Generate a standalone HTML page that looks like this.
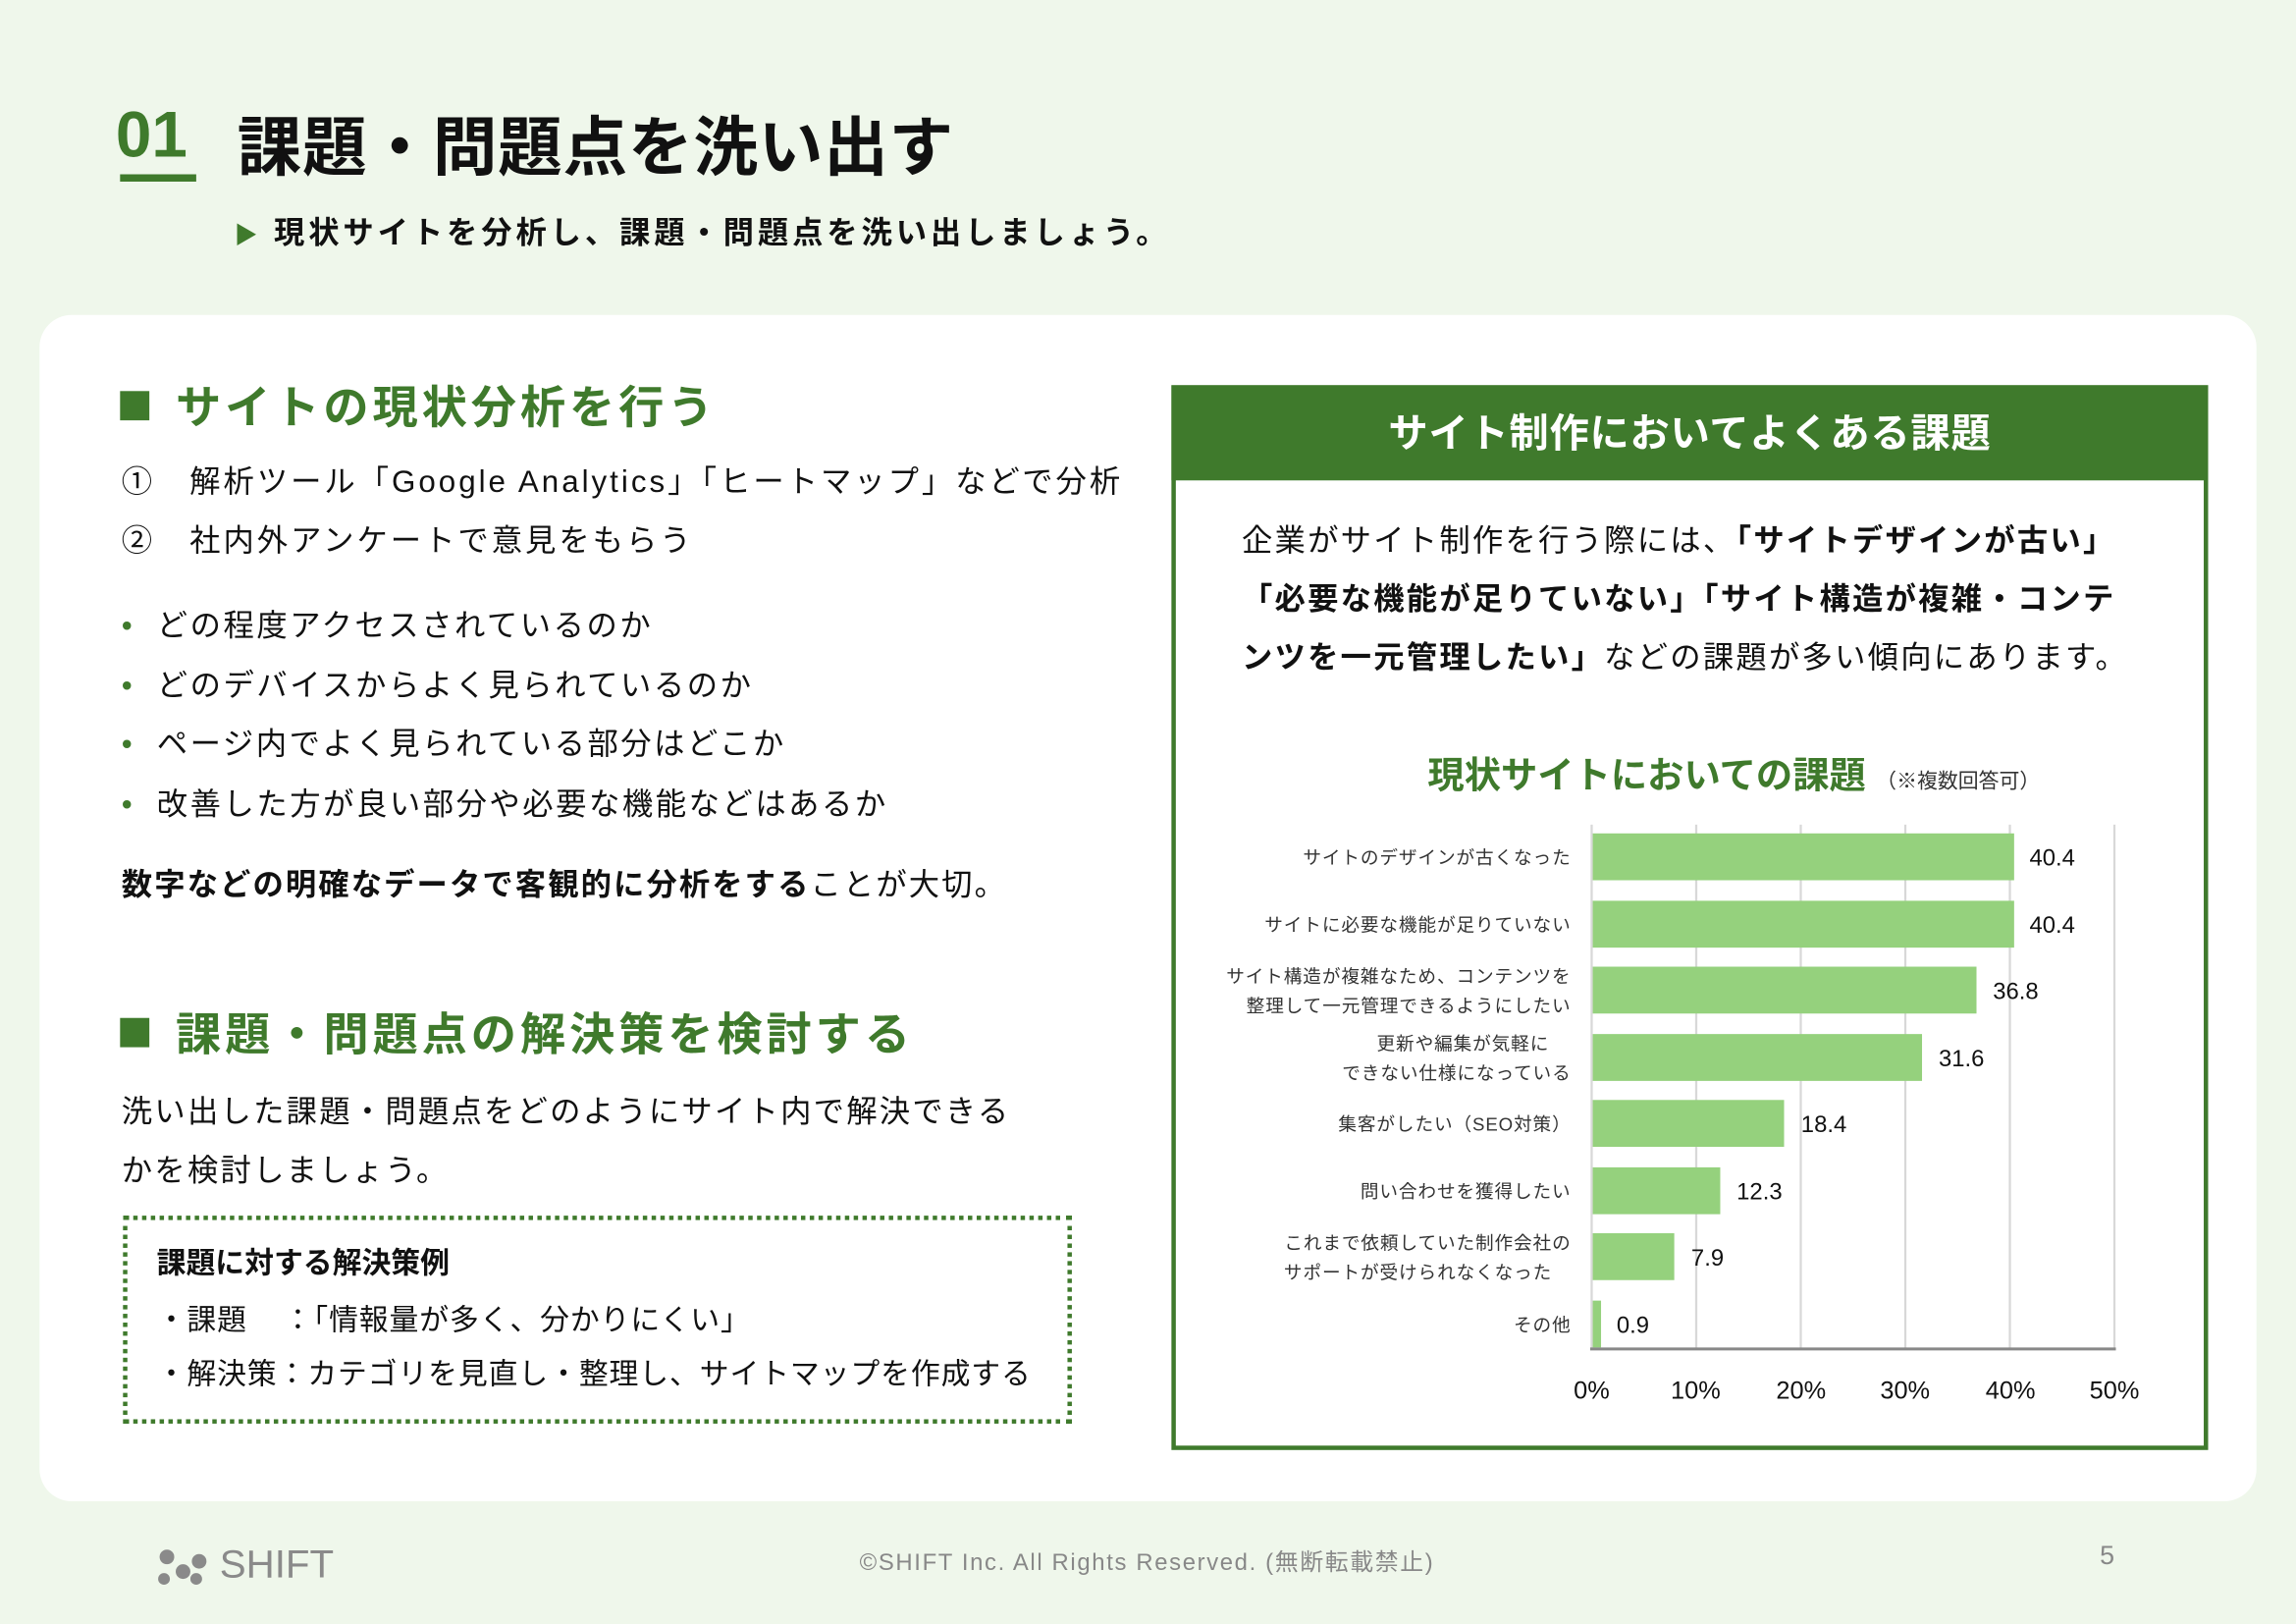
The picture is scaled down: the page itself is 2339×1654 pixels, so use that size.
<!DOCTYPE html>
<html><head><meta charset="utf-8"><style>
html,body{margin:0;padding:0;}
body{width:2339px;height:1654px;overflow:hidden;background:#eff7eb;}
#s{position:absolute;left:0;top:0;width:1568px;height:1109px;transform:scale(1.49171);transform-origin:0 0;font-family:"Liberation Sans","Noto Sans CJK JP",sans-serif;color:#111;}
.a{position:absolute;white-space:nowrap;}
.g{color:#3f7a2c;}
.b{font-weight:bold;}
</style></head><body><div id="s">
<div class="a b g" style="left:79px;top:68px;font-size:44px;">01</div>
<div class="a" style="left:82px;top:119px;width:52px;height:5px;background:#3f7a2c;"></div>
<div class="a b" style="left:162px;top:65px;font-size:44px;letter-spacing:0.5px;">課題・問題点を洗い出す</div>
<div class="a b" style="left:160px;top:143px;font-size:21px;letter-spacing:2.6px;"><span class="g" style="font-size:16px;">▶</span> 現状サイトを分析し、課題・問題点を洗い出しましょう。</div>

<div class="a" style="left:27px;top:215px;width:1514px;height:810px;background:#fff;border-radius:22px;"></div>

<div class="a b g" style="left:82px;top:253px;font-size:31px;letter-spacing:2.6px;"><span style="display:inline-block;width:20px;height:20px;background:#3f7a2c;margin-right:18px;vertical-align:2px;"></span>サイトの現状分析を行う</div>
<div class="a" style="left:83px;top:313px;font-size:21px;letter-spacing:2px;">①&nbsp;&nbsp;&nbsp;解析ツール「Google Analytics」「ヒートマップ」などで分析</div>
<div class="a" style="left:83px;top:353px;font-size:21px;letter-spacing:2px;">②&nbsp;&nbsp;&nbsp;社内外アンケートで意見をもらう</div>
<div class="a" style="left:83px;top:408px;font-size:21px;line-height:40.5px;letter-spacing:1.7px;"><span class="g">•</span>&nbsp;&nbsp;どの程度アクセスされているのか<br><span class="g">•</span>&nbsp;&nbsp;どのデバイスからよく見られているのか<br><span class="g">•</span>&nbsp;&nbsp;ページ内でよく見られている部分はどこか<br><span class="g">•</span>&nbsp;&nbsp;改善した方が良い部分や必要な機能などはあるか</div>
<div class="a" style="left:83px;top:588px;font-size:21px;letter-spacing:1.4px;"><b>数字などの明確なデータで客観的に分析をする</b>ことが大切。</div>

<div class="a b g" style="left:82px;top:681px;font-size:31px;letter-spacing:2.6px;"><span style="display:inline-block;width:20px;height:20px;background:#3f7a2c;margin-right:18px;vertical-align:2px;"></span>課題・問題点の解決策を検討する</div>
<div class="a" style="left:83px;top:740px;font-size:21px;line-height:40px;letter-spacing:1.5px;">洗い出した課題・問題点をどのようにサイト内で解決できる<br>かを検討しましょう。</div>
<div class="a" style="left:84px;top:830px;width:642px;height:136px;border:3px dotted #3f7a2c;"></div>
<div class="a b" style="left:107px;top:846px;font-size:20px;">課題に対する解決策例</div>
<div class="a" style="left:107px;top:885px;font-size:20px;letter-spacing:0.6px;">・課題&nbsp;&nbsp;&nbsp;&nbsp;：「情報量が多く、分かりにくい」</div>
<div class="a" style="left:107px;top:922px;font-size:20px;letter-spacing:0.6px;">・解決策：カテゴリを見直し・整理し、サイトマップを作成する</div>

<div class="a" style="left:800px;top:263px;width:702px;height:721px;border:3px solid #3f7a2c;"></div>
<div class="a" style="left:800px;top:263px;width:708px;height:65px;background:#3f7a2c;"></div>
<div class="a b" style="left:800px;top:274px;width:708px;text-align:center;font-size:27px;color:#fff;letter-spacing:0.5px;">サイト制作においてよくある課題</div>
<div class="a" style="left:848px;top:350px;font-size:21px;line-height:40px;letter-spacing:1.5px;">企業がサイト制作を行う際には、<b>「サイトデザインが古い」</b><br><b>「必要な機能が足りていない」「サイト構造が複雑・コンテ</b><br><b>ンツを一元管理したい」</b>などの課題が多い傾向にあります。</div>
<div class="a b g" style="left:975px;top:510px;font-size:25px;">現状サイトにおいての課題 <span style="font-size:14px;color:#333;font-weight:normal;">（※複数回答可）</span></div>

<svg class="a" style="left:0;top:0;" width="1568" height="1109">
<g stroke="#d8d8d8" stroke-width="1.5">
<line x1="1158.4" y1="563" x2="1158.4" y2="921"/><line x1="1229.8" y1="563" x2="1229.8" y2="921"/><line x1="1301.2" y1="563" x2="1301.2" y2="921"/><line x1="1372.6" y1="563" x2="1372.6" y2="921"/><line x1="1444" y1="563" x2="1444" y2="921"/>
</g>
<g fill="#95d17d">
<rect x="1087" y="569" width="288.5" height="32"/>
<rect x="1087" y="615" width="288.5" height="32"/>
<rect x="1087" y="660" width="262.8" height="32"/>
<rect x="1087" y="706" width="225.6" height="32"/>
<rect x="1087" y="751" width="131.4" height="32"/>
<rect x="1087" y="797" width="87.8" height="32"/>
<rect x="1087" y="842" width="56.4" height="32"/>
<rect x="1087" y="888" width="6.4" height="32"/>
</g>
<line x1="1087" y1="563" x2="1087" y2="921" stroke="#d8d8d8" stroke-width="1.5"/>
<line x1="1086" y1="921" x2="1445" y2="921" stroke="#888" stroke-width="2"/>
<g font-family="Liberation Sans, sans-serif" font-size="16" fill="#111">
<text x="1386" y="591">40.4</text><text x="1386" y="637">40.4</text><text x="1361" y="682">36.8</text><text x="1324" y="728">31.6</text><text x="1230" y="773">18.4</text><text x="1186" y="819">12.3</text><text x="1155" y="864">7.9</text><text x="1104" y="910">0.9</text>
</g>
<g font-family="Liberation Sans, sans-serif" font-size="17" fill="#111" text-anchor="middle">
<text x="1087" y="955">0%</text><text x="1158" y="955">10%</text><text x="1230" y="955">20%</text><text x="1301" y="955">30%</text><text x="1373" y="955">40%</text><text x="1444" y="955">50%</text>
</g>
<g font-family="Liberation Sans, Noto Sans CJK JP, sans-serif" font-size="12.5" fill="#333" text-anchor="end" letter-spacing="0.6">
<text x="1073" y="590">サイトのデザインが古くなった</text>
<text x="1073" y="636">サイトに必要な機能が足りていない</text>
<text x="1073" y="671">サイト構造が複雑なため、コンテンツを</text>
<text x="1073" y="691">整理して一元管理できるようにしたい</text>
<text x="1058" y="717">更新や編集が気軽に</text>
<text x="1073" y="737">できない仕様になっている</text>
<text x="1073" y="772">集客がしたい（SEO対策）</text>
<text x="1073" y="818">問い合わせを獲得したい</text>
<text x="1073" y="853">これまで依頼していた制作会社の</text>
<text x="1060" y="873">サポートが受けられなくなった</text>
<text x="1073" y="909">その他</text>
</g>
<g fill="#8a8a8a"><circle cx="114" cy="1063" r="5"/><circle cx="125" cy="1073" r="5"/><circle cx="112" cy="1078" r="4"/><circle cx="136" cy="1066" r="5"/><circle cx="134" cy="1078" r="4"/></g>
</svg>
<div class="a" style="left:150px;top:1053px;font-size:27px;color:#8a8a8a;">SHIFT</div>
<div class="a" style="left:587px;top:1053px;font-size:16px;color:#888;letter-spacing:1.1px;">©SHIFT Inc. All Rights Reserved. (無断転載禁止)</div>
<div class="a" style="left:1434px;top:1052px;font-size:18px;color:#888;">5</div>
</div></body></html>
